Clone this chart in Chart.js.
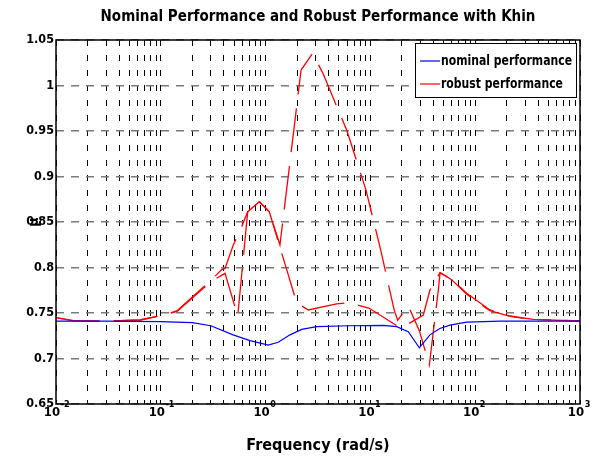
<!DOCTYPE html>
<html>
<head>
<meta charset="utf-8">
<script src="https://cdn.jsdelivr.net/npm/chart.js@4.4.0/dist/chart.umd.min.js"></script>
<style>
  html, body { margin: 0; padding: 0; background: #fff; }
  #wrap { width: 600px; height: 459px; }
</style>
</head>
<body>
<div id="wrap"><canvas id="muChart" width="600" height="459"></canvas></div>
<script>
// --- textes ---
const chartTitle = 'Nominal Performance and Robust Performance with Khin';
const xTitle = 'Frequency (rad/s)';
const yTitle = 'μ';

// --- axes ---
const xTickValues = [
    0.01, 0.02, 0.03, 0.04, 0.05, 0.06, 0.07, 0.08, 0.09,
    0.1, 0.2, 0.3, 0.4, 0.5, 0.6, 0.7, 0.8, 0.9,
    1, 2, 3, 4, 5, 6, 7, 8, 9,
    10, 20, 30, 40, 50, 60, 70, 80, 90,
    100, 200, 300, 400, 500, 600, 700, 800, 900,
    1000
];
const xMajorValues = [0.01, 0.1, 1, 10, 100, 1000];
const xMajorExponents = ['-2', '-1', '0', '1', '2', '3'];
const yTickValues = [0.65, 0.7, 0.75, 0.8, 0.85, 0.9, 0.95, 1, 1.05];
const yTickLabels = ['0.65', '0.7', '0.75', '0.8', '0.85', '0.9', '0.95', '1', '1.05'];

// --- séries ---
const nominalFreq = [0.01, 0.03, 0.1, 0.2, 0.3, 0.49, 0.71, 1.06, 1.32, 1.71, 2.21, 3.07, 6.38, 13.3, 17.8, 23, 29.3, 37, 46, 57.5, 83, 173, 1000];
const nominalMu   = [0.741, 0.741, 0.7405, 0.7395, 0.736, 0.726, 0.7196, 0.7148, 0.7178, 0.726, 0.732, 0.735, 0.736, 0.7365, 0.735, 0.7295, 0.7118, 0.726, 0.733, 0.7367, 0.740, 0.741, 0.741];

const robustFreq = [0.01, 0.0145, 0.0275, 0.0634, 0.105, 0.143, 0.301, 0.384, 0.41, 0.492, 0.578, 0.675, 0.871, 1.084, 1.37, 2.18, 2.81, 3.55, 5.94, 9.08, 12.5, 16.8, 18.2, 23, 29.3, 36.5, 44.5, 46.2, 59.7, 83, 138, 215, 358, 1000];
const robustMu   = [0.745, 0.7416, 0.741, 0.7423, 0.7475, 0.7525, 0.786, 0.798, 0.799, 0.8247, 0.842, 0.8613, 0.8723, 0.8613, 0.8247, 1.017, 1.0354, 1.0126, 0.951, 0.885, 0.82, 0.754, 0.742, 0.7577, 0.7306, 0.6929, 0.7753, 0.7943, 0.787, 0.7717, 0.7533, 0.7467, 0.7431, 0.7412];

// deuxième borne de la performance robuste
const robustLowFreq = [0.01, 0.0145, 0.0275, 0.0634, 0.105, 0.143, 0.301, 0.41, 0.542, 0.675, 0.871, 1.084, 1.98, 2.555, 4.76, 6.38, 6.87, 9.76, 18.9, 23, 32, 37, 46.2, 59.7, 83, 138, 215, 358, 1000];
const robustLowMu   = [0.745, 0.7416, 0.741, 0.7423, 0.7475, 0.7518, 0.7845, 0.7936, 0.7467, 0.8613, 0.8723, 0.8613, 0.7613, 0.7533, 0.760, 0.7613, 0.7599, 0.7552, 0.7343, 0.738, 0.7478, 0.7753, 0.7943, 0.7865, 0.7705, 0.7525, 0.7462, 0.7428, 0.7412];

const FONT = '"DejaVu Sans Condensed", "Liberation Sans", Arial, sans-serif';

const toPoints = (xs, ys) => xs.map((x, i) => ({ x: x, y: ys[i] }));
const isMajor = v => xMajorValues.findIndex(m => Math.abs(v / m - 1) < 1e-6);

// cadre noir + exposants + légende dans la zone du graphique
const decorPlugin = {
    id: 'decor',
    afterDraw(chart) {
        const ctx = chart.ctx;
        const area = chart.chartArea;
        const xs = chart.scales.x;

        ctx.save();
        // cadre
        ctx.strokeStyle = '#000';
        ctx.lineWidth = 1.5;
        ctx.strokeRect(area.left, area.top, area.right - area.left, area.bottom - area.top);

        // exposants des graduations
        ctx.fillStyle = '#000';
        ctx.textAlign = 'left';
        ctx.textBaseline = 'top';
        xMajorValues.forEach((v, i) => {
            const px = xs.getPixelForValue(v);
            ctx.font = 'bold 13px ' + FONT;
            const w = ctx.measureText('10').width;
            ctx.font = 'bold 9px ' + FONT;
            ctx.fillText(xMajorExponents[i], px - 4 + w / 2 + 0.5, area.bottom - 4);
        });

        // légende (texte un peu resserré comme sur la figure)
        const boxW = 161, boxH = 54;
        const bx = area.right - 4 - boxW;
        const by = area.top + 3;
        ctx.fillStyle = '#fff';
        ctx.fillRect(bx, by, boxW, boxH);
        ctx.strokeStyle = '#000';
        ctx.lineWidth = 1;
        ctx.strokeRect(bx + 0.5, by + 0.5, boxW, boxH);
        const items = chart.data.datasets.filter(d => d.inLegend);
        ctx.font = 'bold 14.5px ' + FONT;
        ctx.textBaseline = 'middle';
        const squeeze = 131 / ctx.measureText(items[0].label).width;
        items.forEach((d, i) => {
            const ly = by + 18 + i * 23;
            ctx.strokeStyle = d.borderColor;
            ctx.lineWidth = 1.2;
            ctx.setLineDash([]);
            ctx.beginPath();
            ctx.moveTo(bx + 5, ly);
            ctx.lineTo(bx + 25, ly);
            ctx.stroke();
            ctx.save();
            ctx.translate(bx + 26, ly);
            ctx.scale(squeeze, 1);
            ctx.fillStyle = '#000';
            ctx.fillText(d.label, 0, 0);
            ctx.restore();
        });
        ctx.restore();
    }
};

new Chart(document.getElementById('muChart').getContext('2d'), {
    type: 'line',
    data: {
        datasets: [
            {
                label: 'nominal performance',
                data: toPoints(nominalFreq, nominalMu),
                borderColor: '#0000ff',
                borderWidth: 1.2,
                pointRadius: 0,
                tension: 0,
                xAxisID: 'x',
                inLegend: true
            },
            {
                label: 'robust performance',
                data: toPoints(robustFreq, robustMu),
                borderColor: '#ff0000',
                borderWidth: 1.3,
                borderDash: [44, 14],
                pointRadius: 0,
                tension: 0,
                xAxisID: 'x',
                inLegend: true
            },
            {
                label: 'robust performance (borne)',
                data: toPoints(robustLowFreq, robustLowMu),
                borderColor: '#ff0000',
                borderWidth: 1.3,
                borderDash: [44, 14],
                pointRadius: 0,
                tension: 0,
                xAxisID: 'x',
                inLegend: false
            }
        ]
    },
    options: {
        responsive: false,
        animation: false,
        layout: { padding: { left: 0, right: 20, top: 0, bottom: 0 } },
        plugins: {
            legend: { display: false },
            tooltip: { enabled: false }
        },
        scales: {
            x: {
                type: 'logarithmic',
                position: 'bottom',
                min: 0.01,
                max: 1000,
                afterBuildTicks: scale => { scale.ticks = xTickValues.map(v => ({ value: v })); },
                afterFit: scale => { scale.height = 55; },
                ticks: {
                    autoSkip: false,
                    maxRotation: 0,
                    padding: 1,
                    labelOffset: -4,
                    color: '#000',
                    font: { family: FONT, size: 13, weight: 'bold' },
                    callback: value => (isMajor(value) >= 0 ? '10' : '')
                },
                grid: { color: '#000', lineWidth: 1, drawTicks: false },
                border: { display: false, dash: [6, 9] },
                title: {
                    display: true,
                    text: xTitle,
                    color: '#000',
                    font: { family: FONT, size: 16, weight: 'bold' },
                    padding: { top: 0, bottom: 4 }
                }
            },
            xTop: {
                type: 'logarithmic',
                position: 'top',
                min: 0.01,
                max: 1000,
                afterFit: scale => { scale.height = 40; },
                ticks: { display: false },
                grid: { display: false, drawTicks: false },
                border: { display: false },
                title: {
                    display: true,
                    text: chartTitle,
                    color: '#000',
                    font: { family: FONT, size: 15, weight: 'bold' },
                    padding: { top: 8, bottom: 0 }
                }
            },
            y: {
                min: 0.65,
                max: 1.05,
                afterBuildTicks: scale => { scale.ticks = yTickValues.map(v => ({ value: v })); },
                afterFit: scale => { scale.width = 56; },
                ticks: {
                    padding: 2,
                    color: '#000',
                    font: { family: FONT, size: 12.5, weight: 'bold' },
                    callback: (value, index) => yTickLabels[index]
                },
                grid: { color: '#7a7a7a', lineWidth: 1.5, drawTicks: false },
                border: { display: false, dash: [8, 7] },
                title: {
                    display: true,
                    text: yTitle,
                    color: '#000',
                    font: { family: FONT, size: 14, weight: 'bold' },
                    padding: { top: 26, bottom: 0 }
                }
            }
        }
    },
    plugins: [decorPlugin]
});
</script>
</body>
</html>
